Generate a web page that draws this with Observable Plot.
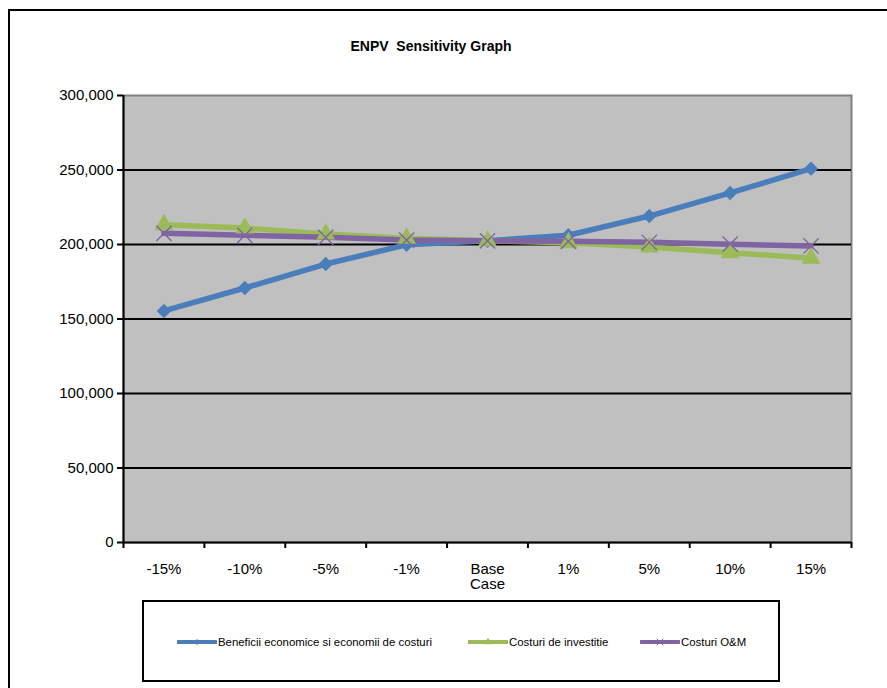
<!DOCTYPE html>
<html>
<head>
<meta charset="utf-8">
<script src="https://cdn.jsdelivr.net/npm/d3@7"></script>
<script src="https://cdn.jsdelivr.net/npm/@observablehq/plot@0.6"></script>
<style>
  html, body { margin: 0; padding: 0; background: #fff; }
  #wrap { position: relative; width: 887px; height: 688px; overflow: hidden; font-family: "Liberation Sans", Arial, sans-serif; }
  #wrap svg.plot { position: absolute; left: 0; top: 0; }
  #outer { position: absolute; left: 8px; top: 9px; width: 900px; height: 700px; border: 2px solid #000; box-sizing: border-box; }
  #title { position: absolute; left: 0; width: 862px; top: 38px; text-align: center; font-weight: bold; font-size: 14px; color: #000; white-space: pre; }
  #legend { position: absolute; left: 142px; top: 600px; width: 638px; height: 82px; border: 2px solid #000; box-sizing: border-box; background: #fff; }
  .item { position: absolute; top: 32px; height: 16px; display: flex; align-items: center; font-size: 11.4px; color: #000; white-space: nowrap; }
  .item svg { margin-right: 1px; }
</style>
</head>
<body>
<div id="wrap">
  <div id="outer"></div>
  <div id="title">ENPV  Sensitivity Graph</div>
  <div id="legend"></div>
</div>
<script>
const categories = ["-15%", "-10%", "-5%", "-1%", "Base\nCase", "1%", "5%", "10%", "15%"];
const seriesNames = ["Beneficii economice si economii de costuri", "Costuri de investitie", "Costuri O&M"];
const beneficii = [155400, 170800, 186900, 199800, 202500, 206200, 219100, 234600, 250900];
const investitie = [213300, 211000, 207000, 204200, 202500, 201200, 198300, 194500, 190800];
const costuriOM = [207500, 206200, 204800, 203000, 202500, 202100, 201500, 200200, 199000];
const yTicks = [0, 50000, 100000, 150000, 200000, 250000, 300000];
const gridValues = [50000, 100000, 150000, 200000, 250000];

const colors = ["#4A7EBB", "#9BBB59", "#8064A2"];
const symbols = ["diamond2", "triangle", "times"];

const idx = categories.map((_, i) => i);
const data = [];
[beneficii, investitie, costuriOM].forEach((vals, s) => {
  vals.forEach((v, i) => data.push({series: seriesNames[s], s, i, v}));
});
const bounds = d3.range(categories.length + 1).map(i => i - 0.5);

const chart = Plot.plot({
  width: 887,
  height: 688,
  marginLeft: 123,
  marginRight: 36,
  marginTop: 95,
  marginBottom: 146,
  style: {fontFamily: "'Liberation Sans', Arial, sans-serif", background: "transparent", overflow: "visible"},
  x: {type: "linear", domain: [-0.5, categories.length - 0.5]},
  y: {type: "linear", domain: [0, 300000]},
  marks: [
    Plot.frame({fill: "#C0C0C0", stroke: "#808080", strokeWidth: 2}),
    Plot.ruleY(gridValues, {stroke: "#000", strokeWidth: 2}),
    Plot.ruleX([-0.5], {stroke: "#000", strokeWidth: 2}),
    Plot.ruleY([0], {stroke: "#000", strokeWidth: 2}),
    Plot.axisY({ticks: yTicks, tickFormat: d3.format(","), tickSize: 6, tickPadding: 4, fontSize: 15, label: null, stroke: "#000", strokeWidth: 2, fill: "#000"}),
    Plot.axisX({ticks: bounds, tickFormat: () => "", tickSize: 6, label: null, stroke: "#000", strokeWidth: 2}),
    Plot.axisX({ticks: idx, tickFormat: i => categories[i], tickSize: 0, tickPadding: 20, fontSize: 15, label: null, lineHeight: 1.05, fill: "#000"}),
    ...[0, 1, 2].map(s => Plot.line(data.filter(d => d.s === s), {x: "i", y: "v", stroke: colors[s], strokeWidth: 5.5, strokeLinejoin: "round", strokeLinecap: "round"})),
    ...[0, 1, 2].map(s => Plot.dot(data.filter(d => d.s === s), s === 2
      ? {x: "i", y: "v", symbol: symbols[s], r: 7, stroke: colors[s], strokeWidth: 1.4}
      : {x: "i", y: "v", symbol: symbols[s], r: s === 0 ? 6.5 : 7, fill: colors[s], stroke: "none"}))
  ]
});
chart.classList.add("plot");
document.getElementById("wrap").appendChild(chart);

// legend
const legend = document.getElementById("legend");
const lefts = [33, 324, 496];
seriesNames.forEach((name, s) => {
  const item = document.createElement("div");
  item.className = "item";
  item.style.left = lefts[s] + "px";
  const sw = d3.create("svg").attr("width", 40).attr("height", 16);
  sw.append("line").attr("x1", 1).attr("x2", 39).attr("y1", 8).attr("y2", 8)
    .attr("stroke", colors[s]).attr("stroke-width", 4).attr("stroke-linecap", "round");
  const sym = d3.symbol().type([d3.symbolDiamond2, d3.symbolTriangle, d3.symbolTimes][s]).size(s === 2 ? 30 : 24);
  sw.append("path").attr("d", sym()).attr("transform", "translate(20,8)")
    .attr("fill", s === 2 ? "none" : colors[s]).attr("stroke", s === 2 ? colors[s] : "none").attr("stroke-width", 1);
  item.appendChild(sw.node());
  const t = document.createElement("span");
  t.textContent = name;
  item.appendChild(t);
  legend.appendChild(item);
});
</script>
</body>
</html>
